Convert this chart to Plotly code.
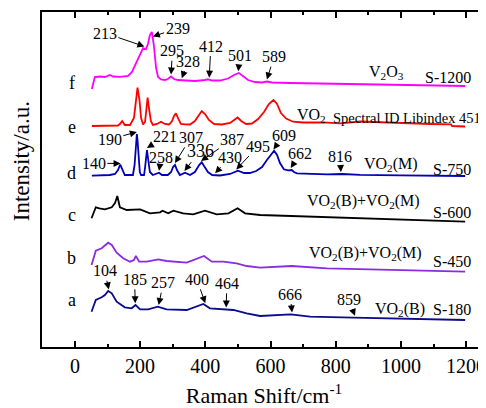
import numpy as np
import plotly.graph_objects as go

# ---------------- data ----------------
# Raman shift (cm-1) and stacked intensity (a.u.) for each sample
f_x = [52, 61, 77, 92, 107, 117, 138, 163, 175, 187, 200, 209, 218, 224, 230, 236, 242, 249, 255, 264,
       276, 285, 295, 304, 316, 338, 368, 399, 408, 421, 445, 470, 488, 503, 516, 531, 552, 574, 589, 605,
       660, 752, 844, 936, 1028, 1120, 1197]
f_y = [258, 270, 270.5, 270, 272, 270.5, 270.2, 271, 275, 283, 292, 299, 298, 303, 312, 315, 302, 279, 270, 267.5,
       267, 268, 270.5, 268, 267, 266.5, 266, 267, 267.7, 266.5, 266.5, 268.5, 272, 274, 271, 267, 265, 264.5, 265.5, 264.5,
       264, 263.5, 263, 262.5, 262, 261.5, 261]

e_x = [52, 77, 107, 132, 138, 145, 153, 169, 181, 187, 192, 198, 203, 209, 215, 219, 223, 227, 233, 239,
       252, 264, 276, 289, 298, 304, 310, 316, 325, 338, 353, 368, 381, 389, 399, 411, 427, 451, 476, 488,
       499, 510, 525, 543, 562, 580, 595, 609, 620, 632, 648, 669, 700, 761, 813, 875, 936, 1019, 1090, 1154,
       1157, 1197]
e_y = [221, 221, 221, 221.5, 223, 226, 222, 222, 229, 247, 259.3, 247, 229, 222.5, 225, 237, 249.3, 239, 226, 222,
       223, 225.3, 223, 222.5, 226, 231, 233.7, 229, 223, 222.7, 222.5, 226, 233, 236, 233, 227, 223, 222.5, 224, 227,
       229.5, 226, 223, 223.5, 228, 235, 243, 247, 243, 234, 228.5, 225.3, 224.5, 224.7, 223.7, 225.5, 224.7, 223.7, 223, 222.7,
       221, 220.5]

d_x = [52, 77, 107, 123, 132, 139, 146, 153, 169, 178, 183, 186, 188, 190, 192, 195, 199, 203, 209, 212,
       215, 218, 221, 225, 230, 239, 249, 258, 267, 285, 295, 301, 307, 313, 322, 338, 353, 368, 381, 389,
       396, 408, 421, 445, 476, 500, 519, 537, 556, 574, 589, 602, 611, 620, 629, 641, 654, 665, 672, 681,
       721, 773, 820, 875, 998, 1120, 1197]
d_y = [171.3, 171.5, 172, 173, 177, 182.3, 177, 172, 172, 172, 182, 197, 209, 213, 207, 189, 175, 172, 172, 172,
       179, 192, 197, 187, 175, 172, 173, 174.3, 172, 172, 175, 180, 182, 177, 172, 174.3, 172, 175, 182, 184.7,
       181, 175, 172, 171.5, 173, 176.3, 174, 174, 176, 180, 187, 193, 196.3, 192, 184, 177.7, 176.7, 177, 175, 173.7,
       173, 172.7, 173, 172.2, 171.7, 171.3, 171]

c_x = [51, 64, 75, 92, 113, 123, 130, 138, 159, 200, 230, 261, 269, 286, 302, 332, 363, 399, 435, 471,
       499, 522, 568, 629, 700, 773, 976, 1197]
c_y = [128.7, 139.7, 138.7, 137.7, 139.7, 144, 151, 139.7, 137, 137.7, 133.7, 134.7, 136.3, 133.7, 136.3, 133.7,
       132.7, 136.3, 132.7, 133.7, 138.7, 133.7, 132, 131.3, 130.3, 129.7, 127.7, 125.3]

b_x = [51, 64, 82, 95, 102, 113, 128, 148, 169, 181, 187, 197, 220, 256, 281, 343, 378, 396, 420, 455,
       496, 527, 568, 629, 665, 773, 977, 1197]
b_y = [82, 96.3, 98.7, 103, 104.3, 102, 94.3, 88.7, 85.3, 87, 91, 85.3, 85.3, 87.7, 86, 84.3, 88.7, 91, 85.3, 85.3,
       83.7, 81, 79.3, 80.3, 81, 78.7, 77, 75.3]

a_x = [51, 64, 82, 92, 102, 113, 128, 153, 174, 186, 200, 225, 254, 281, 343, 374, 394, 414, 455, 486,
       527, 568, 662, 721, 854, 1197]
a_y = [35.3, 47, 49.7, 52, 56, 53.7, 45.3, 39.7, 38.7, 42, 37.7, 37.7, 40.3, 37.7, 37, 40.3, 43, 38.7, 37.7, 37,
       33.7, 31, 32.7, 30.3, 29.3, 27]

# peak labels (cm-1) marked with arrows
f_peaks = [213, 239, 295, 328, 412, 501, 589]
d_peaks = [140, 190, 221, 258, 307, 336, 387, 430, 495, 609, 662, 816]
a_peaks = [104, 185, 257, 400, 464, 666, 859]

sample_letters = ["a", "b", "c", "d", "e", "f"]
sample_names = ["S-180", "S-450", "S-600", "S-750", None, "S-1200"]
phase_names = ["VO<sub>2</sub>(B)", "VO<sub>2</sub>(B)+VO<sub>2</sub>(M)", "VO<sub>2</sub>(B)+VO<sub>2</sub>(M)",
               "VO<sub>2</sub>(M)", "VO<sub>2</sub>", "V<sub>2</sub>O<sub>3</sub>"]
ref_note = "Spectral ID Libindex 451"

# ---------------- layout / style ----------------
FONT = "Liberation Serif"
colors = {"a": "#0a0a8c", "b": "#8a2be2", "c": "#000000", "d": "#0000b4", "e": "#ff0000", "f": "#ff00ff"}
series = {"a": (a_x, a_y), "b": (b_x, b_y), "c": (c_x, c_y), "d": (d_x, d_y), "e": (e_x, e_y), "f": (f_x, f_y)}

# text placement for peak labels (data coords of label centre)
f_text = [(92, 314), (315, 318.7), (299, 296.3), (347, 286), (417, 301), (506, 292), (611, 290.3)]
d_text = [(58, 183.7), (107, 207.7), (276, 210.3), (264, 189.7), (356, 209.7), (384, 196.3), (483, 207.7),
          (476, 189.7), (563, 201), (641, 212), (691, 193.7), (813, 191)]
a_text = [(91, 76.3), (183, 67.7), (271, 64.3), (374, 67.7), (466, 63.7), (660, 53), (840, 47.7)]
letter_y = [47, 89, 132, 174, 220, 264]
name_y = [37.7, 85.3, 134.3, 177.7, None, 269.7]
phase_pos = [(996, 37.7, "center"), (892, 93.7, "center"), (884, 145.3, "center"), (1059, 183, "right"),
             (675, 232, "left"), (956, 275, "center")]

fig = go.Figure()
for k in ["a", "b", "c", "d", "e", "f"]:
    x, y = series[k]
    fig.add_trace(go.Scatter(x=x, y=y, mode="lines", line=dict(color=colors[k], width=1.8),
                             name=k, hoverinfo="skip"))

ann = []
GAP = 2
for key, peaks, texts in [("f", f_peaks, f_text), ("d", d_peaks, d_text), ("a", a_peaks, a_text)]:
    x, y = series[key]
    for p, (tx, ty) in zip(peaks, texts):
        tip_y = float(np.interp(p, x, y)) + GAP
        ann.append(dict(x=p, y=tip_y, xref="x", yref="y", ax=tx, ay=ty, axref="x", ayref="y",
                        text=str(p), showarrow=True, arrowhead=2, arrowsize=1.4, arrowwidth=1,
                        arrowcolor="black", standoff=0,
                        font=dict(family=FONT, size=18 if p == 336 else 16, color="black")))

for i, letter in enumerate(sample_letters):
    ann.append(dict(x=-9, y=letter_y[i], xref="x", yref="y", text=letter, showarrow=False,
                    font=dict(family=FONT, size=18, color="black")))
    if sample_names[i]:
        ann.append(dict(x=1222, y=name_y[i], xref="x", yref="y", text=sample_names[i], showarrow=False,
                        xanchor="right", font=dict(family=FONT, size=16, color="black")))
    px_, py_, anc = phase_pos[i]
    ann.append(dict(x=px_, y=py_, xref="x", yref="y", text=phase_names[i], showarrow=False,
                    xanchor=anc, font=dict(family=FONT, size=16, color="black")))

ann.append(dict(x=786, y=229.5, xref="x", yref="y", text=ref_note, showarrow=False, xanchor="left",
                font=dict(family=FONT, size=14.5, color="black")))

ann.append(dict(x=-0.047, y=0.555, xref="paper", yref="paper", text="Intensity/a.u.", textangle=-90,
                xanchor="center", yanchor="middle",
                showarrow=False, font=dict(family=FONT, size=23, color="black")))

# page body has an 8px margin, so the figure is 8px smaller than the window
fig.update_layout(
    width=478, height=400,
    margin=dict(l=34, r=0, t=4, b=61),
    plot_bgcolor="white", paper_bgcolor="white",
    showlegend=False,
    annotations=ann,
    font=dict(family=FONT, color="black"),
)
fig.update_xaxes(
    range=[-101, 1261], tickvals=[0, 200, 400, 600, 800, 1000, 1200],
    ticks="inside", ticklen=6, tickwidth=1.5, tickcolor="black",
    minor=dict(ticks="inside", ticklen=3, tickwidth=1.5, dtick=100, tick0=0, tickcolor="black", showgrid=False),
    showline=True, linewidth=2, linecolor="black", mirror="ticks",
    showgrid=False, zeroline=False, automargin=False, ticklabeloverflow="allow",
    tickfont=dict(family=FONT, size=20, color="black"),
    title=dict(text="Raman Shift/cm<sup>-1</sup>", font=dict(family=FONT, size=22, color="black"), standoff=14),
)
fig.update_yaxes(
    range=[0, 335], showticklabels=False, ticks="",
    showline=True, linewidth=2, linecolor="black", mirror=False,
    showgrid=False, zeroline=False,
)

fig.write_html("out.html")
